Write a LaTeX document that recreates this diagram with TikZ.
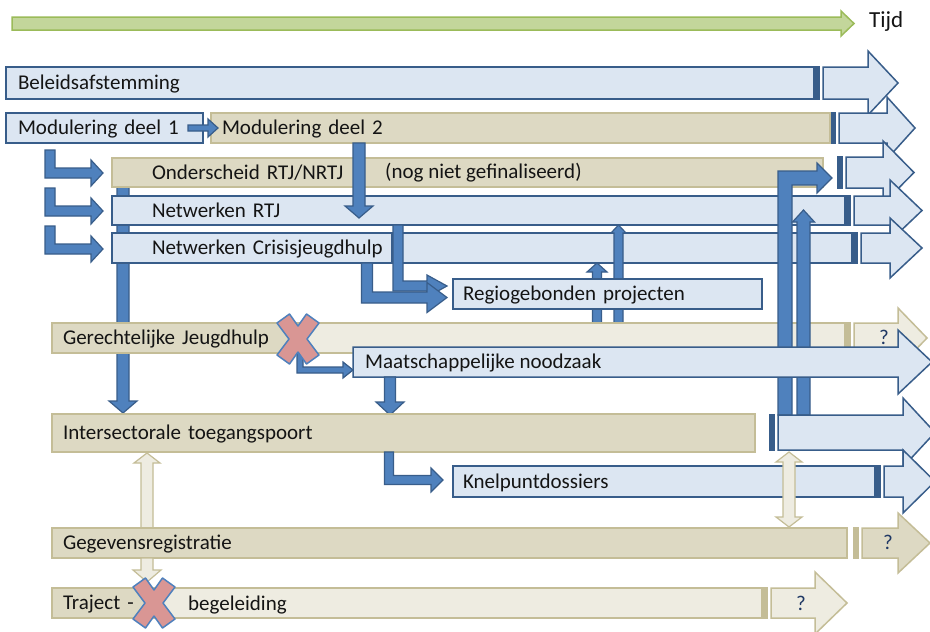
\documentclass[tikz,border=0pt]{standalone}
\usepackage{fontspec}
\setmainfont{Carlito}
\usetikzlibrary{calc}

\definecolor{lblue}{HTML}{DCE6F2}
\definecolor{dblue}{HTML}{385D8A}
\definecolor{mblue}{HTML}{4F81BD}
\definecolor{tanfill}{HTML}{DDD9C3}
\definecolor{ltan}{HTML}{EEECE1}
\definecolor{dtan}{HTML}{C4BD97}
\definecolor{gfill}{HTML}{C3D69B}
\definecolor{gline}{HTML}{9BBB59}
\definecolor{xred}{HTML}{D99694}
\definecolor{qnavy}{HTML}{1F3864}
\definecolor{ink}{HTML}{141414}

\tikzset{
  txt/.style={text height=17.5pt, text depth=4pt},
  lbox/.style={draw=dblue, fill=lblue, line width=1.5pt},
  tbox/.style={draw=dtan, fill=tanfill, line width=1.5pt},
  ltbox/.style={draw=dtan, fill=ltan, line width=1.5pt},
  mband/.style={draw=dblue, fill=lblue, line width=1.5pt, line join=miter},
  conn/.style={draw=dblue, fill=mblue, line width=1.2pt, line join=miter},
  tconn/.style={draw=dtan, fill=ltan, line width=1.2pt, line join=miter},
  garrow/.style={draw=gline, fill=gfill, line width=1.5pt, line join=miter},
  xmark/.style={draw=mblue, fill=xred, line width=1.5pt, line join=round},
  plain/.style={txt, anchor=west, inner sep=0pt},
  qmark/.style={plain, text=qnavy},
  pics/crossout/.style={code={
    \draw[xmark] (-21,-16) -- (-8.5,-25) -- (0,-13) -- (8.5,-25) -- (21,-16)
      -- (9,0) -- (21,16) -- (8.5,25) -- (0,13) -- (-8.5,25) -- (-21,16)
      -- (-9,0) -- cycle;}},
}

% text box: name, style, x0, y0, x1, y1, indent, text
\newcommand{\rowbox}[8]{%
  \pgfmathsetmacro\rbw{#5-#3}%
  \pgfmathsetmacro\rbh{#6-#4}%
  \node[#2, txt, anchor=north west, outer sep=0pt, minimum width=\rbw pt,
        minimum height=\rbh pt, text width=\rbw pt, inner xsep=0pt,
        inner ysep=0pt, align=left] (#1) at (#3,#4) {\hspace*{#7pt}#8};%
}
% striped block arrow: fill, line, stripe x, top, bottom, head x, tip x, head extension
\newcommand{\bandarrow}[8]{%
  \fill[#2] (#3,{#4-0.75}) rectangle ({#3+6},{#5+0.75});%
  \draw[line width=1.5pt, draw=#2, fill=#1, line join=miter]
    ({#3+9},#4) -- (#6,#4) -- (#6,{#4-#8}) -- (#7,{(#4+#5)/2})
    -- (#6,{#5+#8}) -- (#6,#5) -- ({#3+9},#5) -- cycle;%
}
% horizontal block arrow: style, x start, y, tip x, shaft width, head half, head length
\newcommand{\hblk}[7]{%
  \draw[#1] (#2,{#3-#5/2}) -- ({#4-#7},{#3-#5/2}) -- ({#4-#7},{#3-#6})
    -- (#4,#3) -- ({#4-#7},{#3+#6}) -- ({#4-#7},{#3+#5/2})
    -- (#2,{#3+#5/2}) -- cycle;%
}
% vertical block arrow: style, x, y start, tip y, shaft width, head half, head length
\newcommand{\vblk}[7]{%
  \pgfmathsetmacro\vbs{sign(#4-#3)}%
  \draw[#1] ({#2-#5/2},#3) -- ({#2-#5/2},{#4-\vbs*#7}) -- ({#2-#6},{#4-\vbs*#7})
    -- (#2,#4) -- ({#2+#6},{#4-\vbs*#7}) -- ({#2+#5/2},{#4-\vbs*#7})
    -- ({#2+#5/2},#3) -- cycle;%
}
% elbow block arrow (vertical, then right): style, x, y start, elbow y, tip x, width, head half, head length
\newcommand{\lblk}[8]{%
  \pgfmathsetmacro\lbs{sign(#4-#3)}%
  \draw[#1] ({#2-#6/2},#3) -- ({#2-#6/2},{#4+\lbs*#6/2}) -- ({#5-#8},{#4+\lbs*#6/2})
    -- ({#5-#8},{#4+\lbs*#7}) -- (#5,#4) -- ({#5-#8},{#4-\lbs*#7})
    -- ({#5-#8},{#4-\lbs*#6/2}) -- ({#2+#6/2},{#4-\lbs*#6/2})
    -- ({#2+#6/2},#3) -- cycle;%
}
% two-headed vertical block arrow: style, x, top tip, bottom tip, width, head half, head length
\newcommand{\dvblk}[7]{%
  \draw[#1] (#2,#3) -- ({#2+#6},{#3+#7}) -- ({#2+#5/2},{#3+#7})
    -- ({#2+#5/2},{#4-#7}) -- ({#2+#6},{#4-#7}) -- (#2,#4)
    -- ({#2-#6},{#4-#7}) -- ({#2-#5/2},{#4-#7}) -- ({#2-#5/2},{#3+#7})
    -- ({#2-#6},{#3+#7}) -- cycle;%
}

\begin{document}
\begin{tikzpicture}[x=1pt, y=-1pt, font=\fontsize{21}{25}\selectfont, text=ink]
\fill[white] (0,0) rectangle (930,632);
\useasboundingbox (0,0) rectangle (930,632);

% time axis
\hblk{garrow}{12}{23.5}{854}{13}{12.5}{13}
\node[plain, font=\fontsize{23}{27}\selectfont] (tijd) at (869,21) {Tijd};

% policy row
\rowbox{bel}{lbox}{6}{67}{814}{99}{12}{Beleidsafstemming}
\bandarrow{lblue}{dblue}{814}{67}{99}{868}{898}{16}

% modulation rows
\rowbox{mod1}{lbox}{6}{113}{203}{143}{12}{Modulering deel 1}
\bandarrow{lblue}{dblue}{830}{113}{143}{887}{915}{16}
\rowbox{mod2}{tbox}{211}{113}{830}{143}{11}{Modulering deel 2}
\hblk{conn}{188}{128}{218}{6}{9}{10}

% long feed down the left side, running behind the rows
\vblk{conn}{123}{186}{413}{12}{14}{12}

% elbows from the first module
\lblk{conn}{50}{150}{173}{103}{10}{13}{12}
\lblk{conn}{50}{188}{211}{103}{10}{13}{12}
\lblk{conn}{50}{226}{249}{103}{10}{13}{12}

% distinction RTJ/NRTJ
\bandarrow{lblue}{dblue}{837}{157}{188}{883}{914}{16}
\rowbox{onder}{tbox}{112}{158}{823}{187}{40}{Onderscheid RTJ/NRTJ}
\node[plain] (nognf) at (385,172) {(nog niet gefinaliseerd)};

% networks
\bandarrow{lblue}{dblue}{845}{196}{225}{890}{922}{16}
\rowbox{rtj}{lbox}{112}{196}{845}{225}{40}{Netwerken RTJ}
\bandarrow{lblue}{dblue}{852}{233}{263}{890}{922}{15}
\rowbox{crisband}{lbox}{112}{233}{852}{263}{40}{}
\rowbox{crisis}{lbox}{112}{233}{392}{263}{40}{Netwerken Crisisjeugdhulp}

\vblk{conn}{359}{143}{218}{12}{14}{12}

% risers from social necessity, passing behind the region box
\vblk{conn}{597}{347}{263}{9}{10}{9}
\vblk{conn}{618.5}{347}{225}{9}{7.5}{8}

% region projects
\rowbox{regio}{lbox}{453}{279}{762}{309}{10}{Regiogebonden projecten}
\lblk{conn}{398}{225}{286}{447}{10}{11}{20}
\lblk{conn}{367}{263}{297.5}{447}{11}{15}{20}

% judicial youth care
\bandarrow{ltan}{dtan}{845}{323}{353}{898}{927}{15}
\rowbox{gerband}{ltbox}{52}{323}{845}{353}{11}{}
\rowbox{ger}{tbox}{52}{323}{290}{353}{11}{Gerechtelijke Jeugdhulp}
\node[qmark] (q1) at (879,338) {?};

% risers from the access gate
\lblk{conn}{785}{415}{178}{832}{14}{15}{15}
\vblk{conn}{803.5}{415}{210}{13}{11}{12}

% social necessity
\lblk{conn}{300}{340}{370}{353}{6}{8}{10}
\hblk{mband}{353}{362}{932}{30}{32}{34}
\node[plain] (maats) at (365,362) {Maatschappelijke noodzaak};
\pic at (298,339) {crossout};
\vblk{conn}{390}{377}{415}{11}{14}{13}

% intersectoral access gate
\rowbox{inter}{tbox}{52}{414}{755}{452}{11}{Intersectorale toegangspoort}
\bandarrow{lblue}{dblue}{769}{415}{450}{903}{935}{17}
\lblk{conn}{389}{452}{480}{443}{9}{12}{12}

% bottleneck files
\bandarrow{lblue}{dblue}{875}{466}{497}{903}{935}{16}
\rowbox{knel}{lbox}{453}{466}{875}{497}{10}{Knelpuntdossiers}

% data links
\vblk{tconn}{147}{528}{453}{12}{13}{10}
\dvblk{tconn}{789}{452}{527}{12}{13}{10}

% data registration
\bandarrow{tanfill}{dtan}{853}{528}{558}{898}{930}{15}
\rowbox{geg}{tbox}{52}{528}{847}{558}{11}{Gegevensregistratie}
\node[qmark] (q2) at (883,543) {?};
\vblk{tconn}{147}{558}{582}{12}{14}{12}

% guidance track
\bandarrow{ltan}{dtan}{762}{588}{618}{815}{847}{16}
\rowbox{trajband}{ltbox}{52}{588}{762}{618}{11}{}
\rowbox{traj}{tbox}{52}{588}{152}{618}{11}{Traject -}
\node[plain] (begel) at (188,604) {begeleiding};
\node[qmark] (q3) at (796,604) {?};
\pic at (154,603) {crossout};
\end{tikzpicture}
\end{document}
